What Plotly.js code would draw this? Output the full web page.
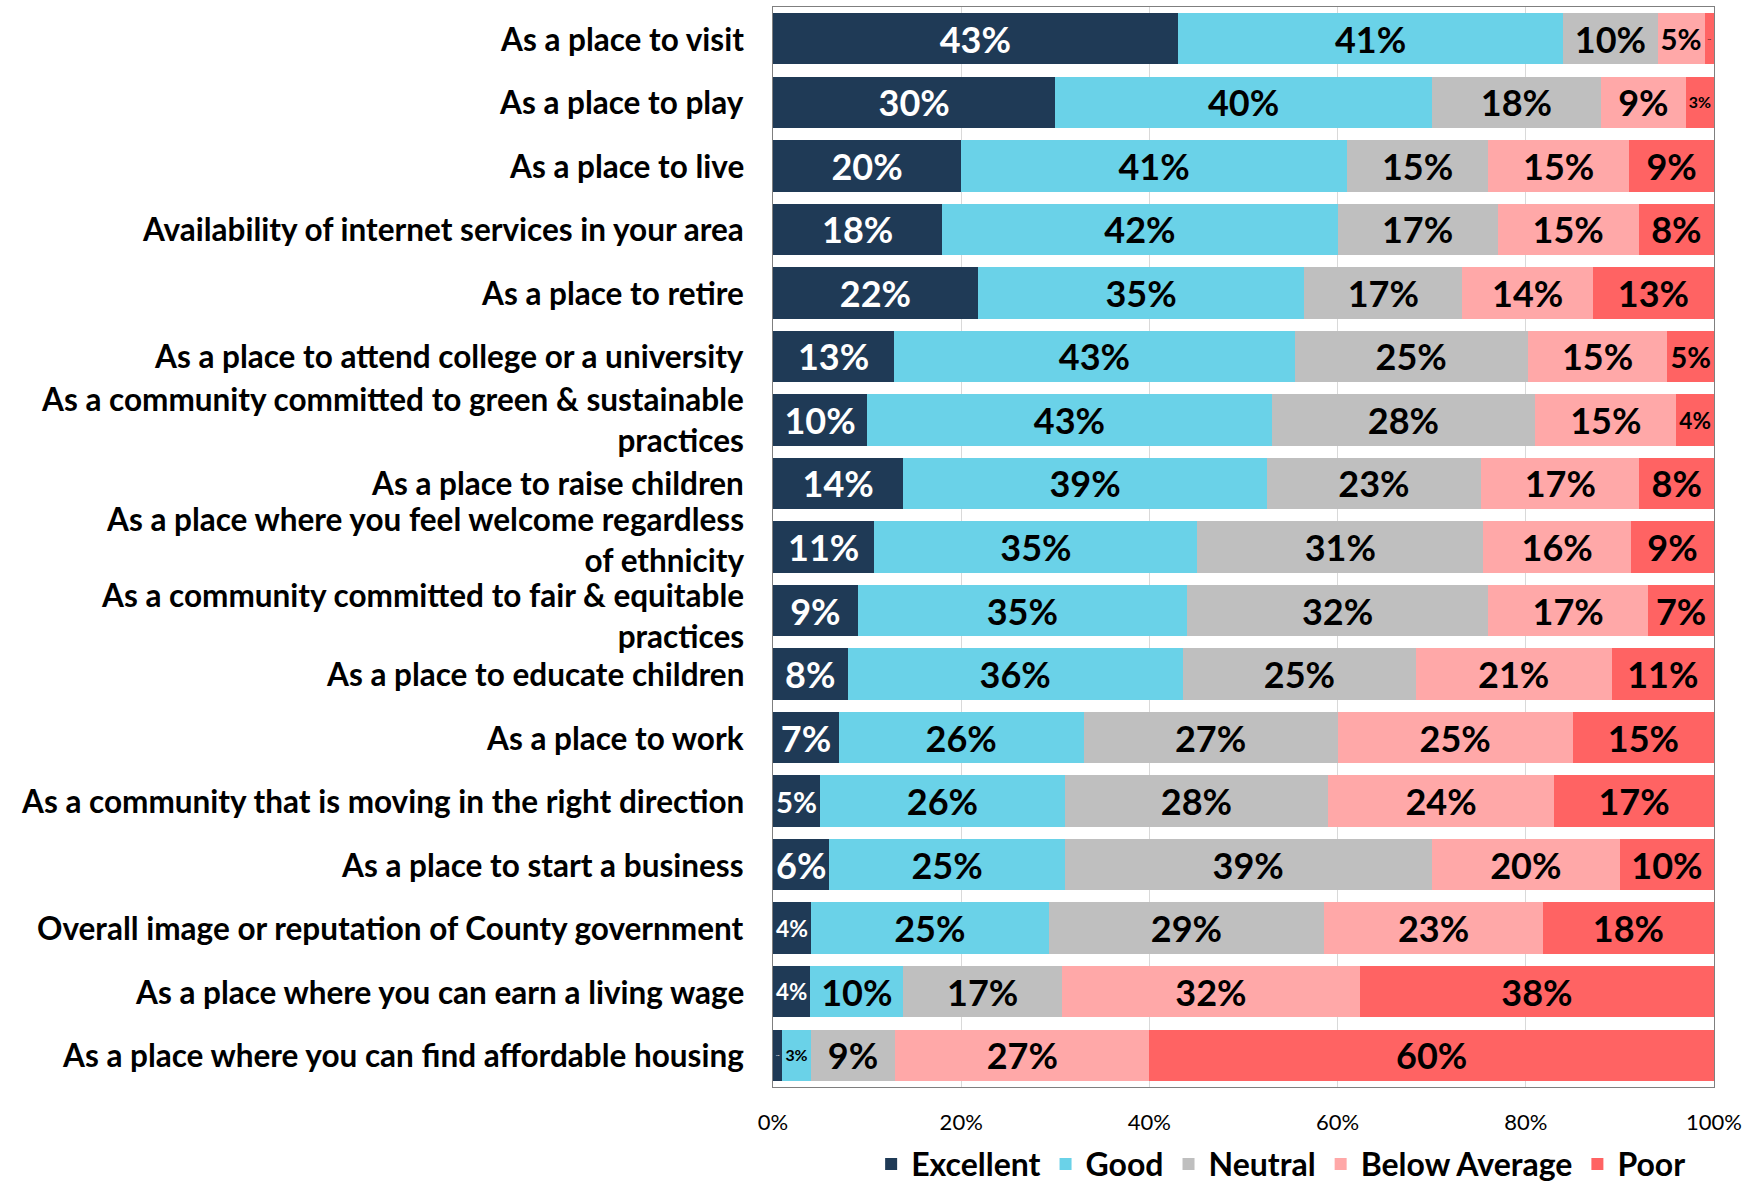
<!DOCTYPE html>
<html>
<head>
<meta charset="utf-8">
<script src="https://cdn.plot.ly/plotly-3.0.1.min.js"></script>
<style>html,body{margin:0;padding:0;background:#fff;}#chart{width:1754px;height:1187px;}</style>
</head>
<body>
<div id="chart"></div>
<script>
const categories = [
  "As a place to visit",
  "As a place to play",
  "As a place to live",
  "Availability of internet services in your area",
  "As a place to retire",
  "As a place to attend college or a university",
  "As a community committed to green & sustainable<br>practices",
  "As a place to raise children",
  "As a place where you feel welcome regardless<br>of ethnicity",
  "As a community committed to fair & equitable<br>practices",
  "As a place to educate children",
  "As a place to work",
  "As a community that is moving in the right direction",
  "As a place to start a business",
  "Overall image or reputation of County government",
  "As a place where you can earn a living wage",
  "As a place where you can find affordable housing"
];
const excellent    = [43, 30, 20, 18, 22, 13, 10, 14, 11,  9,  8,  7,  5,  6,  4,  4,  1];
const good         = [41, 40, 41, 42, 35, 43, 43, 39, 35, 35, 36, 26, 26, 25, 25, 10,  3];
const neutral      = [10, 18, 15, 17, 17, 25, 28, 23, 31, 32, 25, 27, 28, 39, 29, 17,  9];
const belowAverage = [ 5,  9, 15, 15, 14, 15, 15, 17, 16, 17, 21, 25, 24, 20, 23, 32, 27];
const poor         = [ 1,  3,  9,  8, 13,  5,  4,  8,  9,  7, 11, 15, 17, 10, 18, 38, 60];
const seriesNames  = ["Excellent", "Good", "Neutral", "Below Average", "Poor"];
const xTickValues  = [0, 20, 40, 60, 80, 100];
const xTickLabels  = ["0%", "20%", "40%", "60%", "80%", "100%"];

// small vertical nudges of the category labels (pixels, positive = up), as in the reference
const labelNudge   = [0, 0, 0, 0, 0, 0, 0, 0, 8, -5, 0, 0, 0, 0, 0, 0, 0];

const seriesData   = [excellent, good, neutral, belowAverage, poor];
const colors       = ["#1F3A56", "#6AD2E8", "#BFBFBF", "#FFA8A8", "#FF6363"];
const textColors   = ["#FFFFFF", "#000000", "#000000", "#000000", "#000000"];
const FONT = "Lato, 'Open Sans', sans-serif";

const traces = seriesData.map((vals, i) => ({
  type: "bar",
  orientation: "h",
  name: seriesNames[i],
  y: categories,
  x: vals,
  text: vals.map(v => v + "%"),
  textposition: "inside",
  insidetextanchor: "middle",
  textangle: 0,
  insidetextfont: {family: FONT, size: 36, color: textColors[i], weight: 700},
  marker: {color: colors[i], line: {width: 0}},
  hoverinfo: "name+x"
}));

const labelAnnotations = categories.map((c, i) => ({
  xref: "paper", yref: "y",
  x: 0, y: c,
  text: c,
  showarrow: false,
  xanchor: "right",
  yanchor: "middle",
  align: "right",
  xshift: -27,
  yshift: labelNudge[i],
  font: {family: FONT, size: 31.5, color: "#000000", weight: 700}
}));

const layout = {
  width: 1754,
  height: 1187,
  barmode: "stack",
  barnorm: "percent",
  bargap: 0.19,
  paper_bgcolor: "#FFFFFF",
  plot_bgcolor: "#FFFFFF",
  margin: {l: 773, r: 40, t: 7, b: 100, autoexpand: false},
  font: {family: FONT, color: "#000000"},
  xaxis: {
    range: [0, 100],
    tickvals: xTickValues,
    ticktext: xTickLabels,
    tickfont: {family: FONT, size: 22, color: "#000000"},
    showgrid: true,
    gridcolor: "#D9D9D9",
    gridwidth: 1,
    zeroline: false,
    showline: true,
    linecolor: "#7F7F7F",
    linewidth: 1,
    mirror: true,
    ticks: "outside",
    ticklen: 16,
    tickcolor: "rgba(0,0,0,0)",
    fixedrange: true
  },
  yaxis: {
    autorange: "reversed",
    showticklabels: false,
    showgrid: false,
    zeroline: false,
    showline: true,
    linecolor: "#7F7F7F",
    linewidth: 1,
    mirror: true,
    ticks: "",
    automargin: false,
    fixedrange: true
  },
  annotations: labelAnnotations,
  showlegend: true,
  legend: {
    orientation: "h",
    x: 0.54,
    xanchor: "center",
    y: -0.046,
    yanchor: "top",
    font: {family: FONT, size: 32, color: "#000000", weight: 700},
    traceorder: "normal",
    bgcolor: "rgba(0,0,0,0)"
  }
};

Plotly.newPlot("chart", traces, layout, {displayModeBar: false, staticPlot: true});
</script>
</body>
</html>
